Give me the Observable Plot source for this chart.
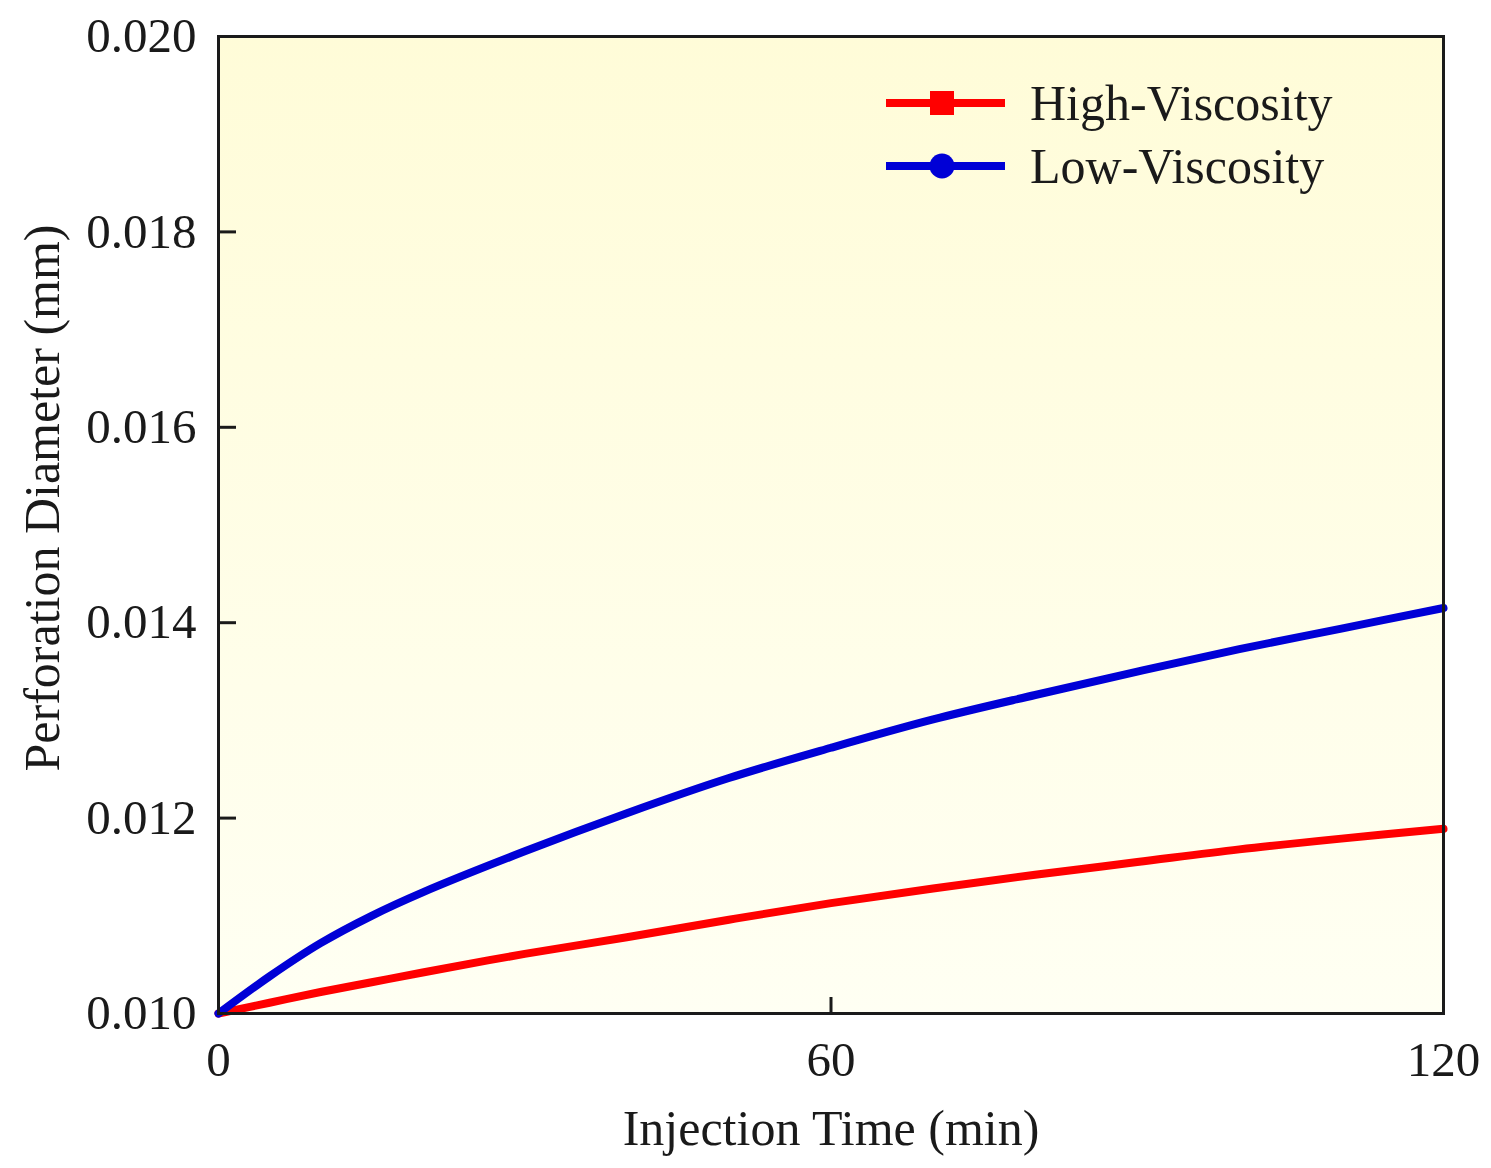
<!DOCTYPE html>
<html>
<head>
<meta charset="utf-8">
<script src="https://cdn.jsdelivr.net/npm/d3@7"></script>
<script src="https://cdn.jsdelivr.net/npm/@observablehq/plot@0.6"></script>
<style>
  body { margin: 0; background: #fff; }
  #wrap { position: relative; width: 1491px; height: 1168px; font-family: "Liberation Serif", "Times New Roman", serif; }
  #legend { position: absolute; left: 0; top: 0; pointer-events: none; }
</style>
</head>
<body>
<div id="wrap"></div>
<script>
// ---- data ----
const time = [0, 5, 10, 15, 20, 30, 40, 50, 60, 70, 80, 90, 100, 110, 120];
const highViscosity = [0.0100, 0.01011, 0.01022, 0.01032, 0.01042, 0.01061, 0.01078, 0.01096, 0.01113, 0.01128, 0.01142, 0.01155, 0.01168, 0.01179, 0.01189];
const lowViscosity  = [0.0100, 0.01038, 0.01072, 0.01100, 0.01124, 0.01166, 0.01205, 0.01241, 0.01272, 0.01301, 0.01326, 0.01350, 0.01373, 0.01394, 0.01415];
const seriesNames = ["High-Viscosity", "Low-Viscosity"];
const seriesColors = ["#ff0000", "#0000d6"];
const seriesSymbols = ["square", "circle"];
const xTicks = [0, 60, 120];
const yTicks = [0.010, 0.012, 0.014, 0.016, 0.018, 0.020];
const xLabel = "Injection Time (min)";
const yLabel = "Perforation Diameter (mm)";

const seriesValues = [highViscosity, lowViscosity];
const rows = [];
seriesNames.forEach((name, i) => {
  time.forEach((t, j) => rows.push({series: name, t, d: seriesValues[i][j]}));
});

const W = 1491, H = 1168;
const font = "Liberation Serif, Times New Roman, serif";

const chart = Plot.plot({
  width: W,
  height: H,
  marginLeft: 218,
  marginRight: 48,
  marginTop: 36,
  marginBottom: 155,
  style: {fontFamily: font, fontSize: "49px", background: "transparent", color: "#1a1a1a", overflow: "visible"},
  x: {domain: [0, 120]},
  y: {domain: [0.010, 0.020]},
  color: {domain: seriesNames, range: seriesColors},
  marks: [
    Plot.frame({fill: "url(#bgGrad)", stroke: null}),
    Plot.line(rows, {x: "t", y: "d", z: "series", stroke: "series", strokeWidth: 8, curve: "catmull-rom"}),
    Plot.frame({stroke: "#1a1a1a", strokeWidth: 3}),
    Plot.axisY({ticks: yTicks, tickFormat: d3.format(".3f"), tickSize: -18, tickPadding: 40, strokeWidth: 3, label: null, fontSize: 49}),
    Plot.axisX({ticks: xTicks, tickFormat: d3.format("d"), tickSize: -16, tickPadding: 44, strokeWidth: 3, label: null, fontSize: 49}),
    Plot.text([xLabel], {frameAnchor: "bottom", text: d => d, dy: 115, lineAnchor: "middle", textAnchor: "middle", fontSize: 50, fill: "#1a1a1a"}),
    Plot.text([yLabel], {frameAnchor: "left", text: d => d, dx: -176, dy: -27, rotate: -90, lineAnchor: "middle", textAnchor: "middle", fontSize: 50, fill: "#1a1a1a"})
  ]
});

// background gradient definition
const ns = "http://www.w3.org/2000/svg";
const defs = document.createElementNS(ns, "defs");
defs.innerHTML = `<linearGradient id="bgGrad" x1="0" y1="0" x2="0" y2="1">
  <stop offset="0" stop-color="#fffcd8"/>
  <stop offset="1" stop-color="#fffff3"/>
</linearGradient>`;
chart.insertBefore(defs, chart.firstChild);

const wrap = document.getElementById("wrap");
wrap.appendChild(chart);

// legend overlay
const leg = document.createElementNS(ns, "svg");
leg.setAttribute("id", "legend");
leg.setAttribute("width", W);
leg.setAttribute("height", 260);
const lx1 = 886, lx2 = 1005, mx = 942, tx = 1030;
const ly = [103, 166];
seriesNames.forEach((name, i) => {
  const y = ly[i];
  const c = seriesColors[i];
  let s = `<line x1="${lx1}" y1="${y}" x2="${lx2}" y2="${y}" stroke="${c}" stroke-width="8"/>`;
  if (seriesSymbols[i] === "square") s += `<rect x="${mx - 12}" y="${y - 12}" width="24" height="24" fill="${c}"/>`;
  else s += `<circle cx="${mx}" cy="${y}" r="12.5" fill="${c}"/>`;
  s += `<text x="${tx}" y="${y + 17}" font-family="${font}" font-size="50" fill="#1a1a1a">${name}</text>`;
  leg.insertAdjacentHTML("beforeend", s);
});
wrap.appendChild(leg);
</script>
</body>
</html>
